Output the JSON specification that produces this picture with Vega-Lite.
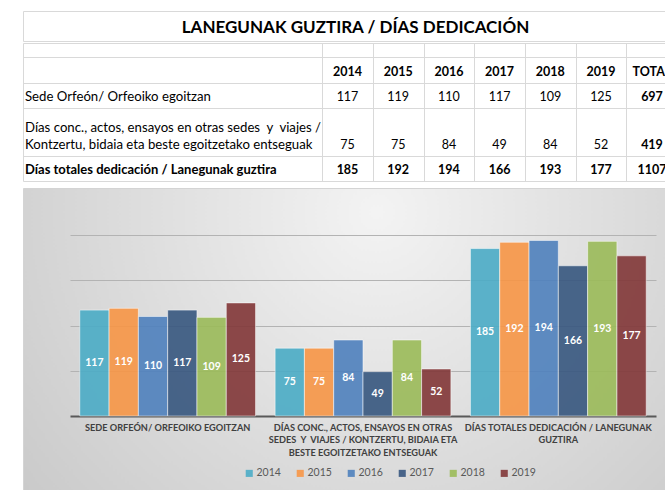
{
  "$schema": "https://vega.github.io/schema/vega-lite/v6.json",
  "padding": {"left": 22, "top": 10, "right": 0, "bottom": 0},
  "background": "white",
  "spacing": 5,
  "datasets": {
    "title": [{"title": "LANEGUNAK GUZTIRA / DÍAS DEDICACIÓN"}],
    "table": [
      {"row": 1, "col": 1, "text": "2014"}, {"row": 1, "col": 2, "text": "2015"}, {"row": 1, "col": 3, "text": "2016"},
      {"row": 1, "col": 4, "text": "2017"}, {"row": 1, "col": 5, "text": "2018"}, {"row": 1, "col": 6, "text": "2019"},
      {"row": 1, "col": 7, "text": "TOTAL"},
      {"row": 2, "col": 0, "text": "Sede Orfeón/ Orfeoiko egoitzan"},
      {"row": 2, "col": 1, "text": "117"}, {"row": 2, "col": 2, "text": "119"}, {"row": 2, "col": 3, "text": "110"},
      {"row": 2, "col": 4, "text": "117"}, {"row": 2, "col": 5, "text": "109"}, {"row": 2, "col": 6, "text": "125"},
      {"row": 2, "col": 7, "text": "697"},
      {"row": 3, "col": 0, "text": "Días conc., actos, ensayos en otras sedes \u00a0y \u00a0viajes /\nKontzertu, bidaia eta beste egoitzetako entseguak"},
      {"row": 3, "col": 1, "text": "75"}, {"row": 3, "col": 2, "text": "75"}, {"row": 3, "col": 3, "text": "84"},
      {"row": 3, "col": 4, "text": "49"}, {"row": 3, "col": 5, "text": "84"}, {"row": 3, "col": 6, "text": "52"},
      {"row": 3, "col": 7, "text": "419"},
      {"row": 4, "col": 0, "text": "Días totales dedicación / Lanegunak guztira"},
      {"row": 4, "col": 1, "text": "185"}, {"row": 4, "col": 2, "text": "192"}, {"row": 4, "col": 3, "text": "194"},
      {"row": 4, "col": 4, "text": "166"}, {"row": 4, "col": 5, "text": "193"}, {"row": 4, "col": 6, "text": "177"},
      {"row": 4, "col": 7, "text": "1107"}
    ],
    "chart": [
      {"cat": "SEDE ORFEÓN/ ORFEOIKO EGOITZAN", "year": "2014", "value": 117},
      {"cat": "SEDE ORFEÓN/ ORFEOIKO EGOITZAN", "year": "2015", "value": 119},
      {"cat": "SEDE ORFEÓN/ ORFEOIKO EGOITZAN", "year": "2016", "value": 110},
      {"cat": "SEDE ORFEÓN/ ORFEOIKO EGOITZAN", "year": "2017", "value": 117},
      {"cat": "SEDE ORFEÓN/ ORFEOIKO EGOITZAN", "year": "2018", "value": 109},
      {"cat": "SEDE ORFEÓN/ ORFEOIKO EGOITZAN", "year": "2019", "value": 125},
      {"cat": "DÍAS CONC., ACTOS, ENSAYOS EN OTRAS SEDES \u00a0Y \u00a0VIAJES / KONTZERTU, BIDAIA ETA BESTE EGOITZETAKO ENTSEGUAK", "year": "2014", "value": 75},
      {"cat": "DÍAS CONC., ACTOS, ENSAYOS EN OTRAS SEDES \u00a0Y \u00a0VIAJES / KONTZERTU, BIDAIA ETA BESTE EGOITZETAKO ENTSEGUAK", "year": "2015", "value": 75},
      {"cat": "DÍAS CONC., ACTOS, ENSAYOS EN OTRAS SEDES \u00a0Y \u00a0VIAJES / KONTZERTU, BIDAIA ETA BESTE EGOITZETAKO ENTSEGUAK", "year": "2016", "value": 84},
      {"cat": "DÍAS CONC., ACTOS, ENSAYOS EN OTRAS SEDES \u00a0Y \u00a0VIAJES / KONTZERTU, BIDAIA ETA BESTE EGOITZETAKO ENTSEGUAK", "year": "2017", "value": 49},
      {"cat": "DÍAS CONC., ACTOS, ENSAYOS EN OTRAS SEDES \u00a0Y \u00a0VIAJES / KONTZERTU, BIDAIA ETA BESTE EGOITZETAKO ENTSEGUAK", "year": "2018", "value": 84},
      {"cat": "DÍAS CONC., ACTOS, ENSAYOS EN OTRAS SEDES \u00a0Y \u00a0VIAJES / KONTZERTU, BIDAIA ETA BESTE EGOITZETAKO ENTSEGUAK", "year": "2019", "value": 52},
      {"cat": "DÍAS TOTALES DEDICACIÓN / LANEGUNAK GUZTIRA", "year": "2014", "value": 185},
      {"cat": "DÍAS TOTALES DEDICACIÓN / LANEGUNAK GUZTIRA", "year": "2015", "value": 192},
      {"cat": "DÍAS TOTALES DEDICACIÓN / LANEGUNAK GUZTIRA", "year": "2016", "value": 194},
      {"cat": "DÍAS TOTALES DEDICACIÓN / LANEGUNAK GUZTIRA", "year": "2017", "value": 166},
      {"cat": "DÍAS TOTALES DEDICACIÓN / LANEGUNAK GUZTIRA", "year": "2018", "value": 193},
      {"cat": "DÍAS TOTALES DEDICACIÓN / LANEGUNAK GUZTIRA", "year": "2019", "value": 177}
    ]
  },
  "vconcat": [
    {
      "spacing": 0,
      "vconcat": [
        {
          "width": 643,
          "height": 30,
          "view": {"stroke": "#d9d9d9", "strokeWidth": 1},
          "data": {"name": "title"},
          "mark": {"type": "text", "fontSize": 17, "fontWeight": "bold", "color": "#000000", "dx": 11, "dy": 2},
          "encoding": {"text": {"field": "title", "type": "nominal"}}
        },
        {
          "width": 643,
          "height": 138,
          "view": {"stroke": "#d9d9d9", "strokeWidth": 1},
          "data": {"name": "table"},
          "encoding": {
            "x": {
              "field": "col", "type": "quantitative",
              "scale": {"domain": [-0.1, 0, 0.5, 1, 6, 6.5, 7, 7.5], "range": [0, 2, 299, 324.5, 578, 603, 629, 643], "nice": false, "zero": false},
              "axis": {"values": [0.5, 1.5, 2.5, 3.5, 4.5, 5.5, 6.5], "grid": true, "gridColor": "#d9d9d9", "labels": false, "ticks": false, "domain": false, "title": null}
            },
            "y": {
              "field": "row", "type": "quantitative",
              "scale": {"domain": [-1, 0, 1, 2, 3, 4], "range": [0, 14, 40, 65, 113, 138], "nice": false, "zero": false},
              "axis": {"values": [0, 1, 2, 3], "grid": true, "gridColor": "#d9d9d9", "labels": false, "ticks": false, "domain": false, "title": null}
            },
            "text": {"field": "text", "type": "nominal"}
          },
          "layer": [
            {
              "transform": [{"filter": "datum.col == 0 && datum.row == 2"}],
              "mark": {"type": "text", "align": "left", "baseline": "bottom", "dy": -4, "fontSize": 13.2, "color": "#000000"}
            },
            {
              "transform": [{"filter": "datum.col == 0 && datum.row == 3"}],
              "mark": {"type": "text", "align": "left", "baseline": "bottom", "dy": -21, "fontSize": 13.2, "lineBreak": "\n", "lineHeight": 17, "color": "#000000"}
            },
            {
              "transform": [{"filter": "datum.col == 0 && datum.row == 4"}],
              "mark": {"type": "text", "align": "left", "baseline": "bottom", "dy": -4, "fontSize": 13, "fontWeight": "bold", "color": "#000000"}
            },
            {
              "transform": [{"filter": "datum.col > 0 && datum.col < 7 && (datum.row == 2 || datum.row == 3)"}],
              "mark": {"type": "text", "align": "center", "baseline": "bottom", "dy": -4, "fontSize": 12.5, "color": "#000000"}
            },
            {
              "transform": [{"filter": "datum.col > 0 && (datum.row == 1 || datum.row == 4 || datum.col == 7)"}],
              "mark": {"type": "text", "align": "center", "baseline": "bottom", "dy": -4, "fontSize": 12.5, "fontWeight": "bold", "color": "#000000", "clip": true}
            }
          ]
        }
      ]
    },
    {
      "width": 643,
      "height": 305,
      "view": {
        "stroke": "#d4d4d4",
        "strokeWidth": 1,
        "fill": {
          "gradient": "radial",
          "x1": 0.55, "y1": 0.3, "r1": 0,
          "x2": 0.55, "y2": 0.3, "r2": 0.85,
          "stops": [{"offset": 0, "color": "#f3f3f3"}, {"offset": 1, "color": "#c1c1c1"}]
        }
      },
      "data": {"name": "chart"},
      "encoding": {
        "x": {
          "field": "cat", "type": "nominal", "sort": null,
          "scale": {"range": [47, 633], "paddingInner": 0.1, "paddingOuter": 0.05},
          "axis": {
            "title": null, "orient": "bottom", "offset": -77, "ticks": false,
            "domain": true, "domainColor": "#595959", "domainWidth": 2,
            "labelAngle": 0, "labelFontSize": 9.2, "labelFontWeight": "bold", "labelColor": "#404040",
            "labelPadding": 7, "labelLineHeight": 12.5, "labelBaseline": "top", "labelLimit": 400,
            "labelExpr": "split(trim(replace(datum.label, regexp('(.{1,40})(\\\\s+|$)', 'g'), '$1\\n')), '\\n')"
          }
        },
        "xOffset": {"field": "year", "type": "nominal", "scale": {"paddingInner": 0, "paddingOuter": 0}},
        "y": {
          "type": "quantitative",
          "scale": {"domain": [0, 200], "range": [228, 47], "nice": false},
          "axis": {"values": [50, 100, 150, 200], "grid": true, "gridColor": "#b3b3b3", "gridWidth": 1, "labels": false, "ticks": false, "domain": false, "title": null}
        }
      },
      "layer": [
        {
          "mark": {"type": "bar", "opacity": 0.9, "stroke": "#ffffff", "strokeWidth": 1, "strokeOpacity": 0.55},
          "encoding": {
            "y": {"field": "value", "type": "quantitative"},
            "color": {
              "field": "year", "type": "nominal",
              "scale": {"domain": ["2014", "2015", "2016", "2017", "2018", "2019"], "range": ["#4BACC6", "#F79646", "#4F81BD", "#37577F", "#9BBB59", "#823738"]},
              "legend": {
                "title": null, "orient": "none", "legendX": 221, "legendY": 457, "direction": "horizontal",
                "symbolType": "square", "symbolSize": 50, "symbolStrokeWidth": 0, "symbolOpacity": 0.9,
                "labelFontSize": 10.5, "labelColor": "#595959", "labelOffset": 2, "columnPadding": 14, "padding": 0
              }
            }
          }
        },
        {
          "transform": [{"calculate": "datum.value / 2", "as": "mid"}],
          "mark": {"type": "text", "color": "#ffffff", "fontSize": 10.5, "fontWeight": "bold", "baseline": "middle"},
          "encoding": {
            "y": {"field": "mid", "type": "quantitative"},
            "text": {"field": "value", "type": "quantitative"}
          }
        }
      ]
    }
  ],
  "config": {
    "font": "Lato",
    "text": {"font": "Lato"},
    "axis": {"labelFont": "Lato"},
    "legend": {"labelFont": "Lato"}
  }
}
